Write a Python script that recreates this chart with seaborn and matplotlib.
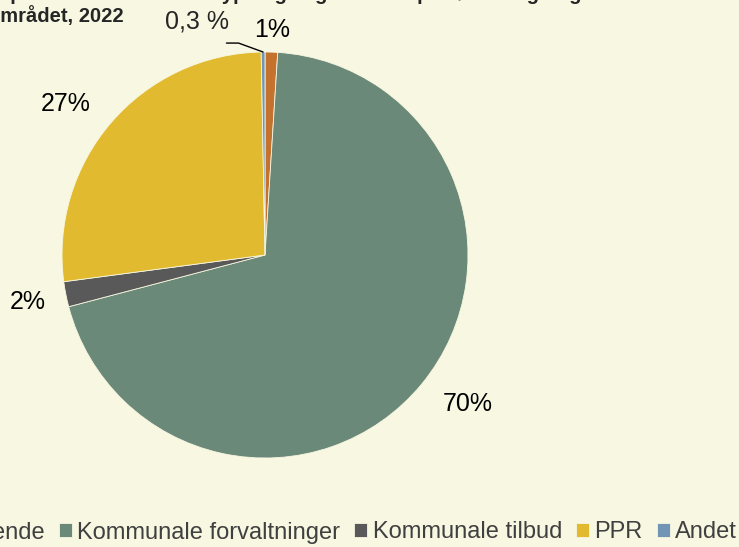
import numpy as np
import seaborn as sns
import matplotlib
import matplotlib.pyplot as plt

sns.set_style('white')
matplotlib.rcParams['font.family'] = ['Liberation Sans', 'DejaVu Sans']

# data
categories = ["Borgere/pårørende", "Kommunale forvaltninger", "Kommunale tilbud", "PPR", "Andet"]
shares = [1.0, 69.9, 2.0, 26.8, 0.3]
pct_labels = ["1%", "70%", "2%", "27%", "0,3 %"]

colors = ["#C5722F", "#6B8978", "#595959", "#E2BA30", "#7295B5"]
label_dist = [1.11, 1.24, 1.19, 1.23, None]
label_turn = [0, 3, 0, 3.5, 0]
bg = "#F8F7E1"

fig = plt.figure(figsize=(7.39, 5.47), dpi=100, facecolor=bg)
W, H = 739, 547
cx, cy, r = 265, 255, 203
ax = fig.add_axes([(cx - r) / W, 1 - (cy + r) / H, 2 * r / W, 2 * r / H])
ax.set_facecolor(bg)

wedges, _ = ax.pie(shares, colors=colors, startangle=90, counterclock=False,
                   wedgeprops=dict(edgecolor=bg, linewidth=0.6))
ax.set_xlim(-1, 1)
ax.set_ylim(-1, 1)
ax.set_aspect('equal')
ax.axis('off')

for w, lab, d, turn in zip(wedges, pct_labels, label_dist, label_turn):
    mid = np.deg2rad((w.theta1 + w.theta2) / 2 + turn)
    if d is None:
        # tiny slice: label off to the left with a leader line
        ax.text(-0.335, 1.15, lab, ha='center', va='center', fontsize=18, clip_on=False)
        ax.annotate('', xy=(np.cos(mid), np.sin(mid)), xytext=(-0.19, 1.044),
                    arrowprops=dict(arrowstyle='-', color='black', lw=1, shrinkA=0, shrinkB=0,
                                    connectionstyle='angle,angleA=0,angleB=-20,rad=0'),
                    annotation_clip=False)
        continue
    ax.text(d * np.cos(mid), d * np.sin(mid), lab, ha='center', va='center',
            fontsize=18, color='black', clip_on=False)

# title (cropped at top/left in the reference)
fig.text(-140 / W, 1 - 0.5 / H, "Henvendelser opdelt efter henvendertype og sagsområde på børne- og unge-",
         fontsize=14.5, fontweight='bold', ha='left', va='baseline')
fig.text(-12 / W, 1 - 22 / H, "området, 2022",
         fontsize=14.5, fontweight='bold', ha='left', va='baseline')

leg = fig.legend(wedges, categories, loc='center right', bbox_to_anchor=(0.997, 1 - 531 / H),
                 ncol=5, frameon=False, fontsize=17, handlelength=0.55, handleheight=0.55,
                 handletextpad=0.22, columnspacing=0.6, borderaxespad=0, borderpad=0)
for t in leg.get_texts():
    t.set_color('#404040')

fig.savefig("out.png", dpi=100, facecolor=bg)
